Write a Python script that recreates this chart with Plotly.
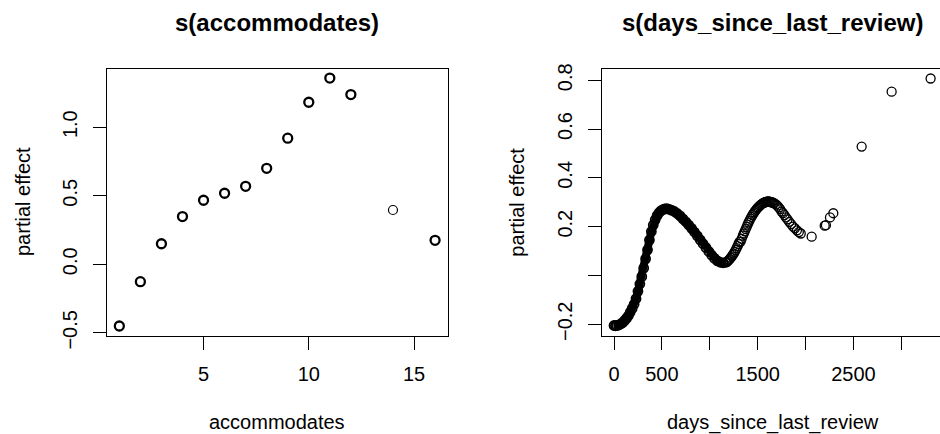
import plotly.graph_objects as go

# ---- data: s(accommodates) ----
acc_x = [1, 2, 3, 4, 5, 6, 7, 8, 9, 10, 11, 12, 14, 16]
acc_y = [-0.450, -0.127, 0.150, 0.348, 0.467, 0.518, 0.569, 0.700, 0.920,
         1.182, 1.358, 1.238, 0.396, 0.175]
acc_single = [14]  # values seen only once (thin circle)

acc_ticks = [5, 10, 15]
acc_ytick_vals = [-0.5, 0.0, 0.5, 1.0]
acc_ytick_text = ["\u22120.5", "0.0", "0.5", "1.0"]

# ---- data: s(days_since_last_review) ----
days_dense = [0, 15, 30, 50, 70, 90, 110, 130, 150, 170, 190, 210, 230, 250, 270,
              290, 310, 330, 350, 370, 390, 410, 430, 450, 470, 490, 510, 530,
              550, 570, 600, 630, 660, 690, 720, 750, 780, 810, 840, 870, 900,
              930, 960, 990, 1020, 1050, 1080, 1110, 1140, 1170]
eff_dense = [-0.205, -0.206, -0.205, -0.203, -0.199, -0.193, -0.185, -0.176,
             -0.165, -0.150, -0.135, -0.118, -0.095, -0.065, -0.035, -0.005,
             0.030, 0.068, 0.105, 0.145, 0.180, 0.207, 0.228, 0.245, 0.257,
             0.265, 0.270, 0.273, 0.274, 0.272, 0.268, 0.262, 0.254, 0.244,
             0.232, 0.220, 0.207, 0.193, 0.178, 0.162, 0.146, 0.130, 0.114,
             0.098, 0.083, 0.070, 0.060, 0.054, 0.052, 0.054]
days_sparse = [1180, 1190, 1200, 1210, 1220, 1230, 1240, 1250, 1260, 1270, 1280,
               1290, 1300, 1310, 1322, 1333, 1345, 1355, 1365, 1375, 1385, 1395,
               1405, 1415, 1425, 1435, 1445, 1455, 1465, 1475, 1485, 1495, 1505,
               1515, 1525, 1535, 1545, 1555, 1565, 1575, 1585, 1595, 1605, 1615,
               1625, 1635, 1645, 1655, 1665, 1675, 1690, 1705, 1720, 1735, 1750,
               1765, 1780, 1795, 1812, 1830, 1850, 1870, 1890, 1910, 1930, 1950,
               2064, 2200, 2213, 2255, 2290, 2586, 2899, 3306]
eff_sparse = [0.056, 0.060, 0.064, 0.068, 0.073, 0.078, 0.084, 0.090, 0.097,
              0.104, 0.112, 0.120, 0.129, 0.138, 0.139, 0.150, 0.163, 0.172,
              0.181, 0.190, 0.199, 0.208, 0.217, 0.225, 0.233, 0.240, 0.247,
              0.253, 0.259, 0.265, 0.270, 0.275, 0.279, 0.283, 0.287, 0.290,
              0.293, 0.296, 0.298, 0.300, 0.301, 0.302, 0.303, 0.303, 0.302,
              0.301, 0.300, 0.299, 0.297, 0.295, 0.291, 0.286, 0.279, 0.272,
              0.262, 0.255, 0.247, 0.238, 0.230, 0.220, 0.210, 0.200, 0.193,
              0.185, 0.178, 0.172, 0.159, 0.204, 0.206, 0.238, 0.255, 0.528,
              0.753, 0.807]

days_ticks = [0, 500, 1000, 1500, 2000, 2500, 3000]
days_tick_text = ["0", "500", "", "1500", "", "2500", ""]
eff_ytick_vals = [-0.2, 0.0, 0.2, 0.4, 0.6, 0.8]
eff_ytick_text = ["\u22120.2", "", "0.2", "0.4", "0.6", "0.8"]

# ---- figure ----
W, H = 940, 434
FONT = "Liberation Sans, Arial, Helvetica, sans-serif"

fig = go.Figure()

multi_x = [x for x in acc_x if x not in acc_single]
multi_y = [y for x, y in zip(acc_x, acc_y) if x not in acc_single]
single_y = [y for x, y in zip(acc_x, acc_y) if x in acc_single]

fig.add_trace(go.Scatter(x=multi_x, y=multi_y, mode="markers",
                         marker=dict(symbol="circle-open", size=9, color="black",
                                     line=dict(width=2.3, color="black")),
                         xaxis="x", yaxis="y", showlegend=False))
fig.add_trace(go.Scatter(x=acc_single, y=single_y, mode="markers",
                         marker=dict(symbol="circle-open", size=9, color="black",
                                     line=dict(width=1.2, color="black")),
                         xaxis="x", yaxis="y", showlegend=False))

fig.add_trace(go.Scatter(x=days_dense, y=eff_dense, mode="lines+markers",
                         line=dict(width=8, color="black"),
                         marker=dict(symbol="circle-open", size=9, color="black",
                                     line=dict(width=1.8, color="black")),
                         xaxis="x2", yaxis="y2", showlegend=False))
fig.add_trace(go.Scatter(x=days_sparse, y=eff_sparse, mode="markers",
                         marker=dict(symbol="circle-open", size=9, color="black",
                                     line=dict(width=1.3, color="black")),
                         xaxis="x2", yaxis="y2", showlegend=False))

y_top, y_bot = 68.5, 336.0
dom_y = [1 - y_bot / H, 1 - y_top / H]

axis_common = dict(showgrid=False, zeroline=False, showline=True, linecolor="black",
                   linewidth=1.3, ticks="outside", ticklen=13, tickwidth=1.3,
                   tickcolor="black", automargin=False,
                   tickfont=dict(family=FONT, size=20, color="black"))

fig.update_layout(
    template="none",
    width=W, height=H,
    margin=dict(l=0, r=0, t=0, b=0, pad=0),
    paper_bgcolor="white", plot_bgcolor="white",
    xaxis=dict(domain=[106.7 / W, 447.7 / W], range=[0.4, 16.6],
               tickvals=acc_ticks, mirror=True, anchor="y",
               ticklabelstandoff=7, **axis_common),
    yaxis=dict(domain=dom_y, range=[-0.523, 1.428], tickvals=acc_ytick_vals,
               ticktext=acc_ytick_text, tickangle=-90, mirror=True, anchor="x",
               ticklabelstandoff=8, **axis_common),
    xaxis2=dict(domain=[601.7 / W, 1.0], range=[-128.4, 3404],
                tickvals=days_ticks, ticktext=days_tick_text, mirror=True,
                anchor="y2", ticklabelstandoff=7, **axis_common),
    yaxis2=dict(domain=dom_y, range=[-0.248, 0.848], tickvals=eff_ytick_vals,
                ticktext=eff_ytick_text, tickangle=-90, mirror=False,
                anchor="x2", ticklabelstandoff=8, **axis_common),
)

def ann(x, y, text, size, angle=0):
    fig.add_annotation(x=x / W, y=1 - y / H, xref="paper", yref="paper",
                       text=text, showarrow=False, textangle=angle,
                       xanchor="center", yanchor="middle",
                       font=dict(family=FONT, size=size, color="black"))

ann(277.2, 22.5, "<b>s(accommodates)</b>", 24)
ann(772.5, 22.5, "<b>s(days_since_last_review)</b>", 24)
ann(277.0, 422.0, "accommodates", 20)
ann(772.5, 422.0, "days_since_last_review", 20)
ann(23.0, 202.0, "partial effect", 20, -90)
ann(516.7, 202.0, "partial effect", 20, -90)

fig.write_html(
    "out.html",
    config={"displayModeBar": False},
    post_script="document.body.style.margin='0';document.body.style.overflow='hidden';",
)
